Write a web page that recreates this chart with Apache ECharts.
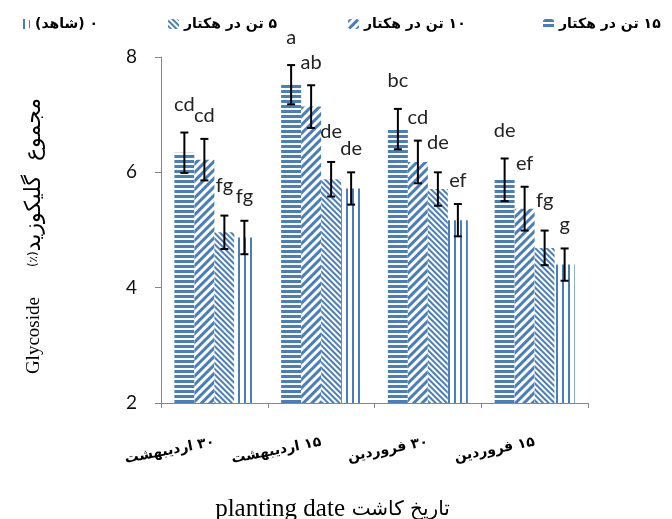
<!DOCTYPE html>
<html>
<head>
<meta charset="utf-8">
<script src="https://cdn.jsdelivr.net/npm/echarts@6/dist/echarts.min.js"></script>
<style>
  html, body { margin: 0; padding: 0; background: #fff; }
  #chart { width: 672px; height: 519px; }
</style>
</head>
<body>
<div id="chart"></div>
<script>
// ---- data ----
const categories = ['\u200F۳۰ اردیبهشت', '\u200F۱۵ اردیبهشت', '\u200F۳۰ فروردین', '\u200F۱۵ فروردین'];
const seriesNames = ['\u200F۱۵ تن در هکتار', '\u200F۱۰ تن در هکتار', '\u200F۵ تن در هکتار', '\u200F۰ (شاهد)'];
const val15 = [6.34, 7.52, 6.75, 5.87];
const val10 = [6.22, 7.14, 6.18, 5.37];
const val5  = [4.96, 5.88, 5.71, 4.69];
const val0  = [4.87, 5.72, 5.17, 4.40];
const err15 = [0.35, 0.34, 0.35, 0.37];
const err10 = [0.36, 0.37, 0.37, 0.38];
const err5  = [0.29, 0.30, 0.29, 0.30];
const err0  = [0.29, 0.28, 0.28, 0.28];
const let15 = ['cd', 'a', 'bc', 'de'];
const let10 = ['cd', 'ab', 'cd', 'ef'];
const let5  = ['fg', 'de', 'de', 'fg'];
const let0  = ['fg', 'de', 'ef', 'g'];
const yTicks = { min: 2, max: 8, interval: 2 };

// ---- styling ----
const BLUE = '#4a7ebb';
const BAR_W = 20;
const decals = [
  { symbol: 'rect', symbolSize: 1, dashArrayX: [[1, 0]], dashArrayY: [2.6, 2], rotation: 0, color: BLUE },
  { symbol: 'rect', symbolSize: 1, dashArrayX: [[1, 0]], dashArrayY: [2.4, 2.4], rotation: -Math.PI / 4, color: BLUE },
  { symbol: 'rect', symbolSize: 1, dashArrayX: [[1, 0]], dashArrayY: [1.3, 1.5], rotation: Math.PI / 4, color: BLUE },
  { symbol: 'rect', symbolSize: 1, dashArrayX: [[1, 0]], dashArrayY: [1.4, 3.2], rotation: Math.PI / 2, color: BLUE }
];
const labelDy = [-28, -23, -30, -24];

const values = [val15, val10, val5, val0];
const errs = [err15, err10, err5, err0];
const letters = [let15, let10, let5, let0];

const barSeries = values.map((v, si) => ({
  name: seriesNames[si],
  type: 'bar',
  data: v,
  barWidth: BAR_W,
  barGap: '0%',
  itemStyle: { color: '#ffffff', decal: decals[si] },
  emphasis: { disabled: true },
  z: 2
}));

const errSeries = values.map((v, si) => ({
  type: 'custom',
  data: v.map((val, i) => [i, val, errs[si][i]]),
  encode: { x: 0, y: 1 },
  z: 5,
  silent: true,
  renderItem: function (params, api) {
    const i = api.value(0), val = api.value(1), e = api.value(2);
    const c = api.coord([i, val]);
    const hi = api.coord([i, val + e]);
    const lo = api.coord([i, val - e]);
    const x = c[0] + (si - 1.5) * BAR_W;
    const cap = 4;
    const st = { stroke: '#000', lineWidth: 2 };
    return {
      type: 'group',
      children: [
        { type: 'line', shape: { x1: x, y1: hi[1], x2: x, y2: lo[1] }, style: st },
        { type: 'line', shape: { x1: x - cap, y1: hi[1], x2: x + cap, y2: hi[1] }, style: st },
        { type: 'line', shape: { x1: x - cap, y1: lo[1], x2: x + cap, y2: lo[1] }, style: st },
        { type: 'text', x: x, y: hi[1] + labelDy[si],
          style: { text: letters[si][params.dataIndex], fill: '#222', font: '20px Lato', align: 'center', verticalAlign: 'middle' } }
      ]
    };
  }
}));

const legendLefts = [538, 343, 163, 14];
const legends = seriesNames.map((n, si) => ({
  data: [n],
  left: legendLefts[si],
  top: 12,
  itemWidth: 11,
  itemHeight: 10,
  itemGap: 0,
  selectedMode: false,
  textStyle: { fontFamily: 'DejaVu Sans', fontWeight: 'bold', fontSize: 14, color: '#000' }
}));

const chart = echarts.init(document.getElementById('chart'), null, { renderer: 'canvas' });
chart.setOption({
  animation: false,
  backgroundColor: '#fff',
  legend: legends,
  grid: { left: 161, right: 84, top: 57, bottom: 116, containLabel: false, outerBoundsMode: 'none' },
  xAxis: {
    type: 'category',
    data: categories,
    axisLine: { lineStyle: { color: '#868686', width: 1 } },
    axisTick: { show: true, length: 5, lineStyle: { color: '#868686' } },
    axisLabel: { interval: 0, rotate: 11, margin: 39, fontFamily: 'DejaVu Sans', fontWeight: 'bold', fontSize: 14, color: '#000' },
    name: '{en|planting date}  {fa|تاریخ کاشت}',
    nameLocation: 'middle',
    nameGap: 94,
    nameTextStyle: {
      padding: [0, 84, 0, 0],
      rich: {
        en: { fontFamily: 'Liberation Serif', fontSize: 25, color: '#000' },
        fa: { fontFamily: 'DejaVu Sans', fontSize: 20, color: '#000' }
      }
    }
  },
  yAxis: {
    type: 'value',
    min: yTicks.min, max: yTicks.max, interval: yTicks.interval,
    splitLine: { show: false },
    axisLine: { show: true, lineStyle: { color: '#868686', width: 1 } },
    axisTick: { show: true, length: 6, lineStyle: { color: '#868686' } },
    axisLabel: { fontFamily: 'Lato', fontSize: 19, color: '#111', margin: 24 },
    name: '{en|Glycoside}{gap|}{pct|(٪)}{fa|مجموع  گلیکوزید}',
    nameLocation: 'middle',
    nameRotate: 90,
    nameGap: 116,
    nameTextStyle: {
      padding: [0, 12, 0, 0],
      rich: {
        en: { fontFamily: 'Liberation Serif', fontSize: 19, color: '#000' },
        gap: { width: 30 },
        pct: { fontFamily: 'DejaVu Sans', fontSize: 12, color: '#000' },
        fa: { fontFamily: 'DejaVu Sans', fontSize: 22, color: '#000' }
      }
    }
  },
  series: barSeries.concat(errSeries)
});
</script>
</body>
</html>
